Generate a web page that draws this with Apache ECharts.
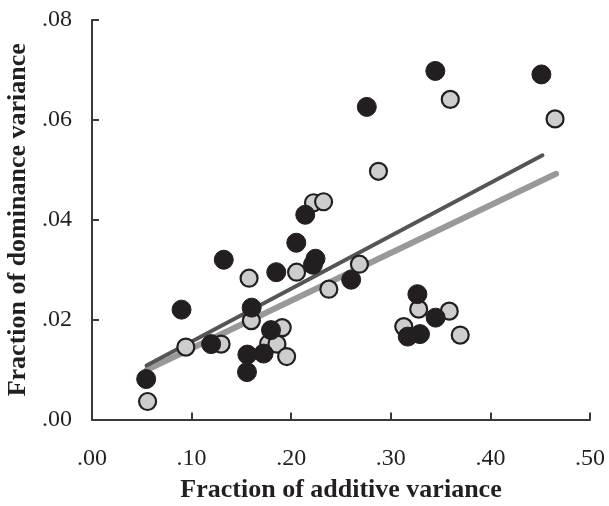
<!DOCTYPE html>
<html>
<head>
<meta charset="utf-8">
<script src="https://cdn.jsdelivr.net/npm/echarts@6/dist/echarts.min.js"></script>
<style>html,body{margin:0;padding:0;background:#fff;}#c{width:609px;height:506px;}</style>
</head>
<body>
<div id="c"></div>
<script>
const xTicks = ['.00', '.10', '.20', '.30', '.40', '.50'];
const yTicks = ['.00', '.02', '.04', '.06', '.08'];

const blackX = [0.0544, 0.0899, 0.1196, 0.1323, 0.1603, 0.1560, 0.1556, 0.1723, 0.1797, 0.1850, 0.2051, 0.2244, 0.2218, 0.2141, 0.2602, 0.2759, 0.3447, 0.4512, 0.3267, 0.3450, 0.3170, 0.3293];
const blackY = [0.0081, 0.0220, 0.0151, 0.0320, 0.0224, 0.0130, 0.0095, 0.0132, 0.0179, 0.0295, 0.0354, 0.0322, 0.0310, 0.0410, 0.0280, 0.0626, 0.0698, 0.0691, 0.0251, 0.0204, 0.0166, 0.0171];

const grayX = [0.0558, 0.0942, 0.1296, 0.1577, 0.1600, 0.1774, 0.1910, 0.1857, 0.1954, 0.2054, 0.2224, 0.2325, 0.2378, 0.2685, 0.2876, 0.3597, 0.4649, 0.3280, 0.3587, 0.3130, 0.3697];
const grayY = [0.0036, 0.0145, 0.0151, 0.0283, 0.0198, 0.0152, 0.0184, 0.0151, 0.0126, 0.0295, 0.0434, 0.0436, 0.0261, 0.0311, 0.0497, 0.0641, 0.0602, 0.0221, 0.0217, 0.0186, 0.0169];

const darkFitX = [0.0548, 0.4523];
const darkFitY = [0.0108, 0.0529];
const lightFitX = [0.0548, 0.4659];
const lightFitY = [0.0099, 0.0492];

const zip = (a, b) => a.map((v, i) => [v, b[i]]);

const chart = echarts.init(document.getElementById('c'), null, {renderer: 'canvas'});
const axisColor = '#3a3a3a';
const font = 'Liberation Serif';
chart.setOption({
  animation: false,
  backgroundColor: '#ffffff',
  grid: {left: 92, right: 19, top: 20, bottom: 86.5, containLabel: false, outerBoundsMode: 'none'},
  xAxis: {
    type: 'value', min: 0, max: 0.5, interval: 0.1,
    name: 'Fraction of additive variance', nameLocation: 'middle', nameGap: 58,
    nameTextStyle: {fontFamily: font, fontWeight: 'bold', fontSize: 26, color: '#231f20'},
    axisLine: {show: true, lineStyle: {color: axisColor, width: 2}},
    axisTick: {show: true, inside: true, length: 7, lineStyle: {color: axisColor, width: 2}},
    axisLabel: {fontFamily: font, fontSize: 24, color: '#231f20', margin: 27,
      formatter: (v) => xTicks[Math.round(v * 10)]},
    splitLine: {show: false}
  },
  yAxis: {
    type: 'value', min: 0, max: 0.08, interval: 0.02,
    name: 'Fraction of dominance variance', nameLocation: 'middle', nameGap: 55,
    nameTextStyle: {fontFamily: font, fontWeight: 'bold', fontSize: 26, color: '#231f20'},
    axisLine: {show: true, lineStyle: {color: axisColor, width: 2}},
    axisTick: {show: true, inside: true, length: 7, lineStyle: {color: axisColor, width: 2}},
    axisLabel: {fontFamily: font, fontSize: 24, color: '#231f20', margin: 20,
      formatter: (v) => yTicks[Math.round(v * 50)]},
    splitLine: {show: false}
  },
  series: [
    {type: 'line', data: zip(lightFitX, lightFitY), symbol: 'none', z: 1,
      lineStyle: {color: '#999999', width: 6, cap: 'round'}},
    {type: 'line', data: zip(darkFitX, darkFitY), symbol: 'none', z: 1,
      lineStyle: {color: '#555555', width: 4, cap: 'round'}},
    {type: 'scatter', data: zip(grayX, grayY), symbol: 'circle', symbolSize: 17, z: 2,
      itemStyle: {color: '#cdcdcd', borderColor: '#231f20', borderWidth: 2.2, opacity: 1}},
    {type: 'scatter', data: zip(blackX, blackY), symbol: 'circle', symbolSize: 19, z: 3,
      itemStyle: {color: '#231f20', borderColor: '#231f20', borderWidth: 1, opacity: 1}}
  ]
});
</script>
</body>
</html>
